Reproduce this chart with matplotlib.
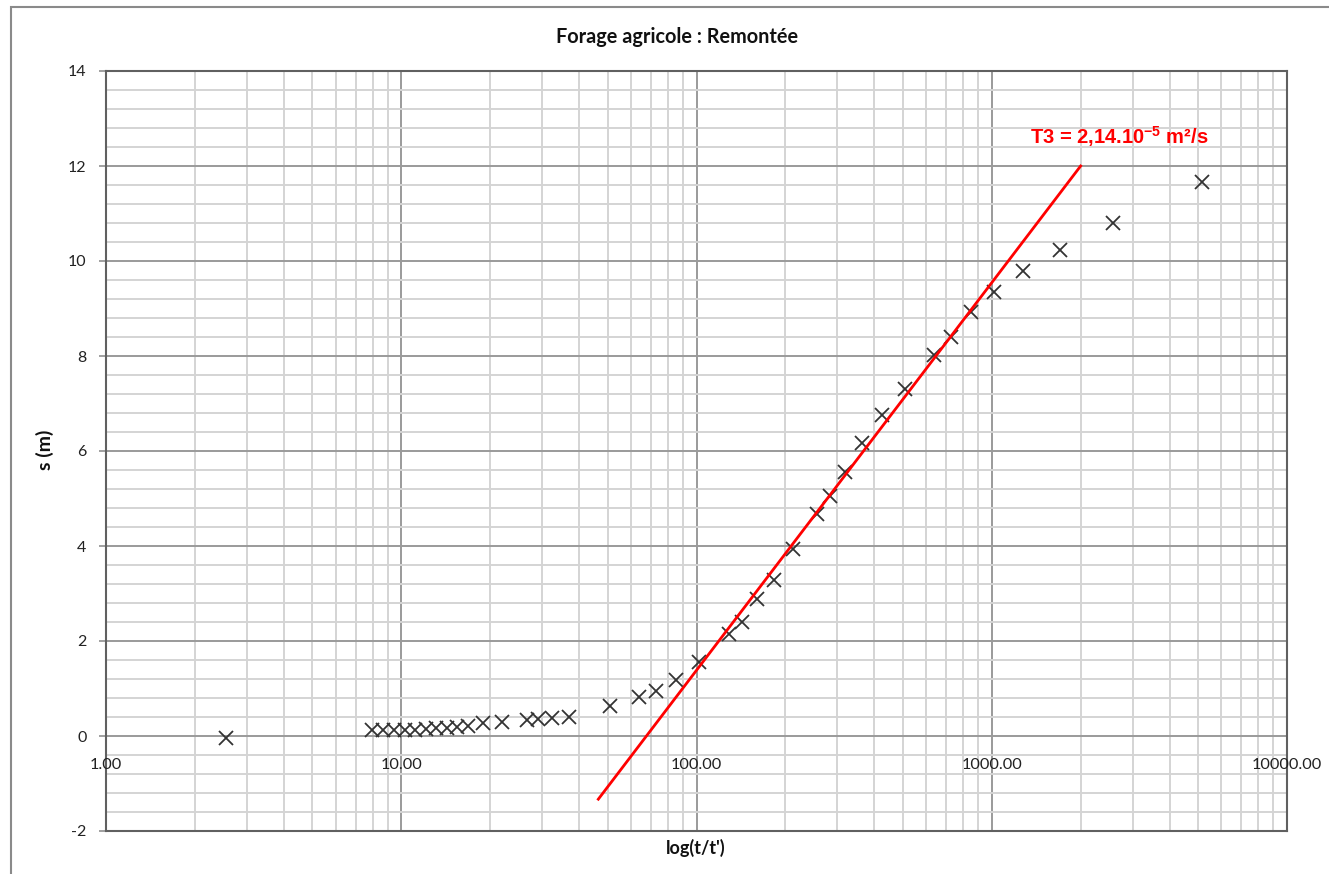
import matplotlib
matplotlib.use("Agg")
import matplotlib.pyplot as plt
from matplotlib.ticker import LogLocator, MultipleLocator, NullFormatter, FixedLocator
from matplotlib.patches import Rectangle

# ---- data ----
t_ratio = [2.55, 7.95, 8.65, 9.42, 10.3, 11.15, 12.1, 13.1, 14.3, 15.4, 16.8,
           18.9, 21.9, 26.7, 29.1, 32.4, 36.9, 51.1, 63.8, 73.0, 85.4, 101.7,
           128.8, 142.1, 160.7, 182.9, 212.7, 255.3, 283.3, 318.4, 364.4,
           423.8, 507.0, 637.7, 726.6, 848.6, 1018, 1277, 1705, 2565, 5140]
s_vals = [-0.04, 0.12, 0.12, 0.12, 0.13, 0.13, 0.15, 0.16, 0.17, 0.19, 0.21,
          0.27, 0.29, 0.33, 0.35, 0.38, 0.41, 0.63, 0.82, 0.95, 1.18, 1.56,
          2.15, 2.39, 2.88, 3.28, 3.94, 4.67, 5.06, 5.56, 6.17,
          6.76, 7.31, 8.02, 8.39, 8.93, 9.35, 9.78, 10.23, 10.79, 11.67]
fit_x = [46.5, 2000]
fit_y = [-1.33, 12.0]
x_ticks = [1, 10, 100, 1000, 10000]
x_tick_labels = ["1.00", "10.00", "100.00", "1000.00", "10000.00"]
y_ticks = [-2, 0, 2, 4, 6, 8, 10, 12, 14]

title = "Forage agricole : Remontée"
xlabel = "log(t/t')"
ylabel = "s (m)"
annot = "T3 = 2,14.10$^{-5}$ m²/s"

plt.rcParams['mathtext.fontset'] = 'custom'
plt.rcParams['mathtext.rm'] = 'Liberation Sans:bold'
plt.rcParams['mathtext.it'] = 'Liberation Sans:bold'
plt.rcParams['mathtext.bf'] = 'Liberation Sans:bold'

W, H = 1329, 874
fig = plt.figure(figsize=(W / 100, H / 100), dpi=100)
L, R, T, B = 106, 1287, 71, 831
ax = fig.add_axes([L / W, 1 - B / H, (R - L) / W, (B - T) / H])

# outer chart border
fig.patches.append(Rectangle((11 / W, -0.05), 1.2, 1 - 7 / H + 0.05, transform=fig.transFigure,
                             fill=False, edgecolor='#8a8a8a', linewidth=1.5, zorder=0))

ax.set_xscale('log')
ax.set_xlim(1, 10000)
ax.set_ylim(-2, 14)

ax.xaxis.set_major_locator(FixedLocator(x_ticks))
ax.xaxis.set_minor_locator(LogLocator(base=10, subs=[2, 3, 4, 5, 6, 7, 8, 9], numticks=20))
ax.xaxis.set_major_formatter(NullFormatter())
ax.xaxis.set_minor_formatter(NullFormatter())
ax.yaxis.set_major_locator(FixedLocator(y_ticks))
ax.yaxis.set_minor_locator(MultipleLocator(0.4))

ax.grid(which='major', color='#9a9a9a', linewidth=1.4, zorder=0)
ax.grid(which='minor', color='#d4d4d4', linewidth=1.4, zorder=0)
ax.set_axisbelow(True)

for sp in ax.spines.values():
    sp.set_color('#606060')
    sp.set_linewidth(1.5)

ax.tick_params(axis='x', which='both', length=0)
ax.tick_params(axis='y', which='minor', length=0)
ax.tick_params(axis='y', which='major', length=5, color='#909090', width=1.2,
               labelsize=11, labelcolor='#222222', pad=9)
ax.set_yticklabels([str(v) for v in y_ticks], fontfamily='Lato', fontsize=11.5)

# x tick labels placed under the horizontal axis crossing at y=0
for xv, lab in zip(x_ticks, x_tick_labels):
    ax.text(xv, -0.61, lab, ha='center', va='center', fontsize=11.8,
            fontfamily='Lato', color='#222222', clip_on=False)

ax.plot(t_ratio, s_vals, linestyle='none', marker='x', markersize=10,
        markeredgewidth=1.3, color='#333333', zorder=3)
ax.plot(fit_x, fit_y, color='#ff0000', linewidth=2, zorder=4)

ax.text(2695, 12.63, annot, ha='center', va='center', color='#ff0000',
        fontsize=14.5, fontweight='bold', fontfamily='Liberation Sans')

fig.text(677 / W, 1 - 37 / H, title, ha='center', va='center', fontsize=14.3,
         fontweight='bold', fontfamily='Lato', color='#111111')
fig.text(696 / W, 1 - 848 / H, xlabel, ha='center', va='center', fontsize=13,
         fontweight='bold', fontfamily='Lato', color='#111111')
fig.text(45 / W, 1 - 450 / H, ylabel, ha='center', va='center', fontsize=14,
         fontweight='bold', fontfamily='Lato', color='#111111', rotation=90)

fig.savefig('out.png', dpi=100)
